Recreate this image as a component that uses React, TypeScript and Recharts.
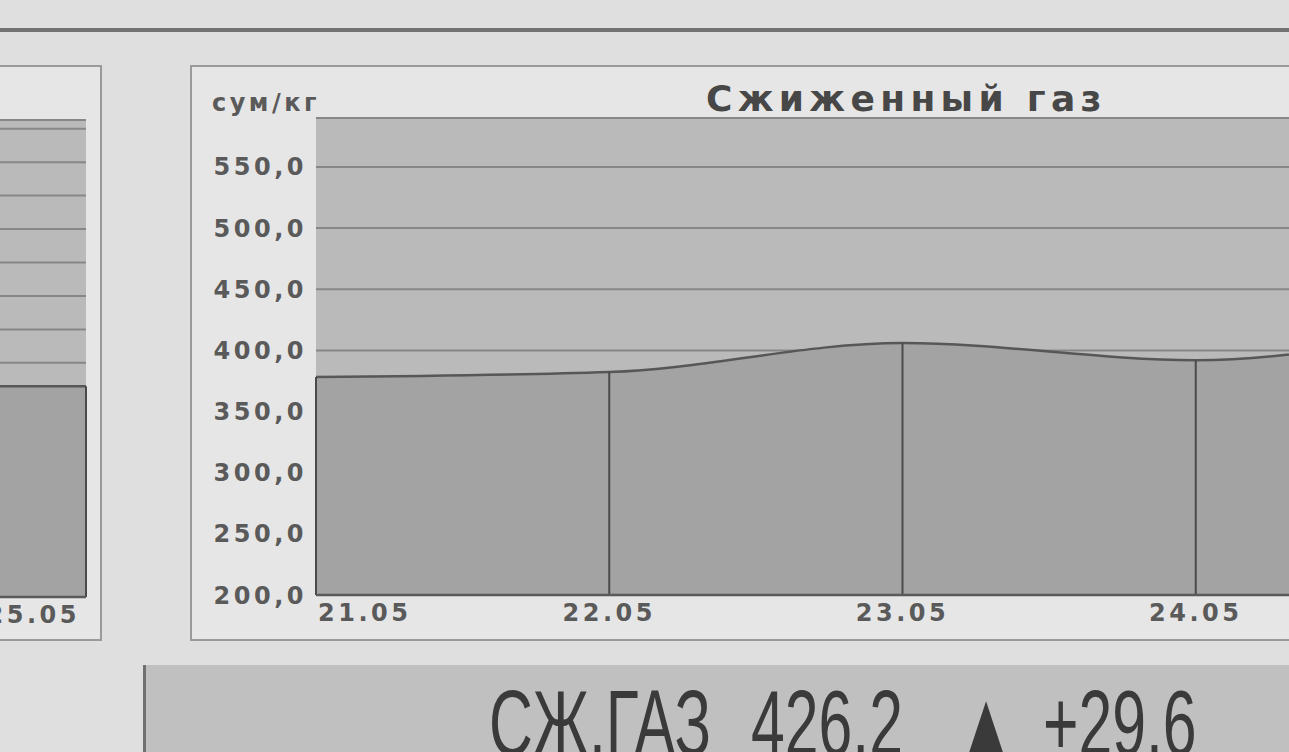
import React from "react";
import {
  AreaChart,
  Area,
  XAxis,
  YAxis,
  CartesianGrid,
  ReferenceLine,
} from "recharts";

// main panel: liquefied gas price, сум/кг
const dates = ["21.05", "22.05", "23.05", "24.05", "25.05"];
const gasPrice = [378.2, 382.3, 406.0, 392.0, 426.2];
const gasTicks = [200, 250, 300, 350, 400, 450, 500, 550];

// neighbouring panel on the left, only its right end is visible
const leftDates = ["21.05", "22.05", "23.05", "24.05", "25.05"];
const leftValues = [312, 314, 315, 315, 315];
const leftTicks = [0, 50, 100, 150, 200, 250, 300, 350, 400, 450, 500, 550, 600, 650, 700];

// ticker strip words
const tickerParts = [
  { text: "СЖ.ГАЗ", left: 489 },
  { text: "426.2", left: 751 },
  { text: "▲", left: 956 },
  { text: "+29.6", left: 1043 },
];

const mainData = dates.map((d, i) => ({ date: d, price: gasPrice[i] }));
const leftData = leftDates.map((d, i) => ({ date: d, price: leftValues[i] }));

const labelFont = "'DejaVu Sans', sans-serif";
const inkGray = "#5a5a5a";

function DateTick(props: any) {
  const { x, y, payload, index, visibleTicksCount, onlyLast } = props;
  const last = index === visibleTicksCount - 1;
  if (onlyLast && !last) return <g />;
  let anchor: "start" | "middle" | "end" = "middle";
  if (index === 0) anchor = "start";
  if (last) anchor = "end";
  return (
    <text
      x={anchor === "start" ? x + 2 : anchor === "end" ? x - 6 : x}
      y={y}
      dy={18}
      textAnchor={anchor}
      fill={inkGray}
      fontFamily={labelFont}
      fontWeight="bold"
      fontSize={24}
      letterSpacing={3.5}
    >
      {payload.value}
    </text>
  );
}

// the left panel's value labels lie off the page, so draw none
function NoTick() {
  return <g />;
}

function PriceChart({
  data,
  domain,
  ticks,
  width,
  marginRight,
  baseline,
  partial,
}: {
  data: { date: string; price: number }[];
  domain: [number, number];
  ticks: number[];
  width: number;
  marginRight: number;
  baseline: number;
  partial?: boolean;
}) {
  return (
    <AreaChart
      width={width}
      height={575}
      data={data}
      margin={{ top: 53, right: marginRight, bottom: 0, left: 0 }}
    >
      <CartesianGrid
        vertical={false}
        fill="#bababa"
        fillOpacity={1}
        stroke="#878787"
        strokeWidth={2}
      />
      <XAxis
        dataKey="date"
        height={45}
        tickLine={false}
        axisLine={{ stroke: "#5a5a5a", strokeWidth: 2.5 }}
        interval={0}
        tick={<DateTick onlyLast={partial} />}
      />
      <YAxis
        width={126}
        domain={domain}
        ticks={ticks}
        interval={0}
        allowDataOverflow
        tickLine={false}
        axisLine={false}
        tickSize={0}
        tickMargin={9}
        tickFormatter={(v: number) => v.toFixed(1).replace(".", ",")}
        tick={
          partial ? (
            <NoTick />
          ) : (
            {
              fill: inkGray,
              fontFamily: labelFont,
              fontWeight: "bold",
              fontSize: 24,
              letterSpacing: 3.5,
            }
          )
        }
      />
      <Area
        type="monotone"
        dataKey="price"
        baseValue={baseline}
        stroke="#575757"
        strokeWidth={2.5}
        fill="#a3a3a3"
        fillOpacity={1}
        isAnimationActive={false}
        dot={false}
        activeDot={false}
      />
      {data.map((d) => (
        <ReferenceLine
          key={d.date}
          segment={[
            { x: d.date, y: baseline },
            { x: d.date, y: d.price },
          ]}
          stroke="#4a4a4a"
          strokeWidth={2}
        />
      ))}
    </AreaChart>
  );
}

export default function App() {
  return (
    <div
      style={{
        position: "fixed",
        inset: 0,
        overflow: "hidden",
        background: "#dfdfdf",
        fontFamily: labelFont,
      }}
    >
      {/* top rule */}
      <div
        style={{
          position: "absolute",
          left: 0,
          top: 28,
          width: 1289,
          height: 4,
          background: "#727272",
        }}
      />

      {/* left neighbouring panel */}
      <div
        style={{
          position: "absolute",
          left: -1000,
          top: 65,
          width: 1102,
          height: 576,
          boxSizing: "border-box",
          border: "2px solid #9a9a9a",
          background: "#e6e6e6",
        }}
      />
      <div style={{ position: "absolute", left: -1000, top: 67 }}>
        <PriceChart
          data={leftData}
          domain={[0, 713]}
          ticks={leftTicks}
          width={1101}
          marginRight={15}
          baseline={0}
          partial
        />
      </div>

      {/* main panel */}
      <div
        style={{
          position: "absolute",
          left: 190,
          top: 65,
          width: 1200,
          height: 576,
          boxSizing: "border-box",
          border: "2px solid #9a9a9a",
          background: "#e6e6e6",
        }}
      />
      <div
        style={{
          position: "absolute",
          left: 212,
          top: 91,
          fontSize: 24,
          fontWeight: "bold",
          letterSpacing: 3.5,
          color: inkGray,
          lineHeight: "24px",
        }}
      >
        сум/кг
      </div>
      <div style={{ position: "absolute", left: 190, top: 65 }}>
        <PriceChart
          data={mainData}
          domain={[200, 590]}
          ticks={gasTicks}
          width={1309}
          marginRight={10}
          baseline={200}
        />
      </div>
      <div
        style={{
          position: "absolute",
          left: 706,
          top: 79,
          fontSize: 36,
          fontWeight: "bold",
          letterSpacing: 5.3,
          color: "#474747",
          lineHeight: "40px",
          whiteSpace: "nowrap",
        }}
      >
        Сжиженный газ
      </div>

      {/* ticker strip at the bottom */}
      <div
        style={{
          position: "absolute",
          left: 143,
          top: 665,
          width: 1146,
          height: 100,
          boxSizing: "border-box",
          borderLeft: "3px solid #707070",
          background: "#c0c0c0",
        }}
      />
      {tickerParts.map((p) => (
        <div
          key={p.text}
          style={{
            position: "absolute",
            left: p.left,
            top: 677,
            fontFamily: "'Liberation Sans', Arial, sans-serif",
            fontSize: 92,
            lineHeight: "92px",
            color: "#3a3a3a",
            whiteSpace: "nowrap",
            transform: "scaleX(0.66)",
            transformOrigin: "0 0",
          }}
        >
          {p.text}
        </div>
      ))}
    </div>
  );
}
